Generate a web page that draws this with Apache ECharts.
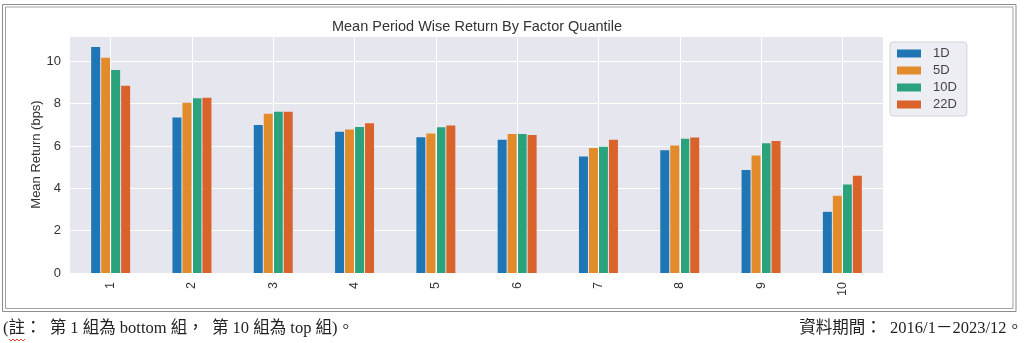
<!DOCTYPE html>
<html>
<head>
<meta charset="utf-8">
<script src="https://cdn.jsdelivr.net/npm/echarts@6/dist/echarts.min.js"></script>
<style>
  html, body { margin: 0; padding: 0; background: #fff; }
  #chart { width: 1024px; height: 343px; }
</style>
</head>
<body>
<div id="chart"></div>
<script>
// Factor quantiles (1 = bottom, 10 = top)
const quantiles = ['1', '2', '3', '4', '5', '6', '7', '8', '9', '10'];

// Mean period-wise return per quantile, in bps
const ret1D  = [10.68, 7.35, 7.00, 6.67, 6.41, 6.30, 5.50, 5.80, 4.87, 2.89];
const ret5D  = [10.17, 8.04, 7.52, 6.78, 6.59, 6.57, 5.91, 6.02, 5.55, 3.65];
const ret10D = [9.59, 8.26, 7.62, 6.90, 6.89, 6.57, 5.97, 6.35, 6.13, 4.18];
const ret22D = [8.85, 8.28, 7.62, 7.08, 6.97, 6.52, 6.30, 6.40, 6.24, 4.60];

const periods = ['1D', '5D', '10D', '22D'];
const periodData = [ret1D, ret5D, ret10D, ret22D];
const periodColors = ['#1f76b4', '#e28b2a', '#2aa37c', '#da632b'];

const chartTitle = 'Mean Period Wise Return By Factor Quantile';
const yAxisTitle = 'Mean Return (bps)';
const noteLeft = '(註：  第 1 組為 bottom 組，  第 10 組為 top 組)。';
const noteRight = '資料期間：  2016/1－2023/12。';

const sansFont = '"Liberation Sans", Arial, sans-serif';
const noteFont = '"Liberation Serif", "Noto Sans CJK TC", serif';

const chart = echarts.init(document.getElementById('chart'), null, { renderer: 'canvas' });

const barSeries = periods.map((p, i) => ({
  name: p,
  type: 'bar',
  data: periodData[i],
  barWidth: 9,
  barGap: '11%',
  z: 2,
  itemStyle: { color: periodColors[i] }
}));

// vertical grid lines through each quantile centre, kept behind the bars
const categoryGrid = {
  name: 'category-grid',
  type: 'line',
  data: [],
  z: 1,
  silent: true,
  markLine: {
    silent: true,
    symbol: ['none', 'none'],
    label: { show: false },
    lineStyle: { color: '#ffffff', width: 1, type: 'solid' },
    emphasis: { disabled: true },
    data: quantiles.map(q => ({ xAxis: q }))
  }
};

chart.setOption({
  animation: false,
  backgroundColor: '#ffffff',
  grid: {
    left: 70, right: 141, top: 36, bottom: 70,
    show: true, backgroundColor: '#e6e6ef', borderWidth: 0
  },
  legend: {
    data: periods,
    orient: 'vertical',
    left: 890, top: 42,
    itemWidth: 24, itemHeight: 8, itemGap: 4,
    icon: 'rect',
    padding: [5, 10, 5, 7],
    backgroundColor: 'rgba(234,234,242,0.85)',
    borderColor: '#d2d2da', borderWidth: 1, borderRadius: 3,
    textStyle: { fontFamily: sansFont, fontSize: 13, color: '#444', lineHeight: 13, padding: [0, 0, 0, 7] }
  },
  xAxis: {
    type: 'category',
    data: quantiles,
    axisLine: { show: false },
    axisTick: { show: false },
    splitLine: { show: false },
    axisLabel: { rotate: 90, margin: 9, fontFamily: sansFont, fontSize: 12.5, color: '#333' }
  },
  yAxis: {
    type: 'value',
    min: 0, max: 11.2, interval: 2,
    name: yAxisTitle,
    nameLocation: 'middle',
    nameGap: 27,
    nameMoveOverlap: false,
    nameTextStyle: { fontFamily: sansFont, fontSize: 13, color: '#333' },
    axisLine: { show: false },
    axisTick: { show: false },
    splitLine: { show: true, lineStyle: { color: '#ffffff', width: 1 } },
    axisLabel: { margin: 9, fontFamily: sansFont, fontSize: 13, color: '#333', showMaxLabel: false }
  },
  series: [categoryGrid].concat(barSeries),
  graphic: [
    // double frame around the figure
    { type: 'rect', shape: { x: 2.5, y: 4.5, width: 1013.5, height: 307 }, style: { fill: 'none', stroke: '#8c8c8c', lineWidth: 1 }, silent: true },
    { type: 'rect', shape: { x: 5.5, y: 7, width: 1007.5, height: 301.5 }, style: { fill: 'none', stroke: '#a0a0a0', lineWidth: 1 }, silent: true },
    // chart title
    { type: 'text', x: 477, y: 27, style: { text: chartTitle, font: '14.5px ' + sansFont, fill: '#333', textAlign: 'center', textVerticalAlign: 'middle' } },
    // notes under the figure
    { type: 'text', x: 3, y: 329, style: { text: noteLeft, font: '16.5px ' + noteFont, fill: '#222', textAlign: 'left', textVerticalAlign: 'middle' } },
    { type: 'text', x: 1023, y: 329, style: { text: noteRight, font: '16.5px ' + noteFont, fill: '#222', textAlign: 'right', textVerticalAlign: 'middle' } },
    // spell-check squiggle under 註
    { type: 'polyline', shape: { points: [[9,339],[11,341],[13,339],[15,341],[17,339],[19,341],[21,339],[23,341],[25,339]] }, style: { stroke: '#e0452b', lineWidth: 1, fill: 'none' }, silent: true }
  ]
});
</script>
</body>
</html>
